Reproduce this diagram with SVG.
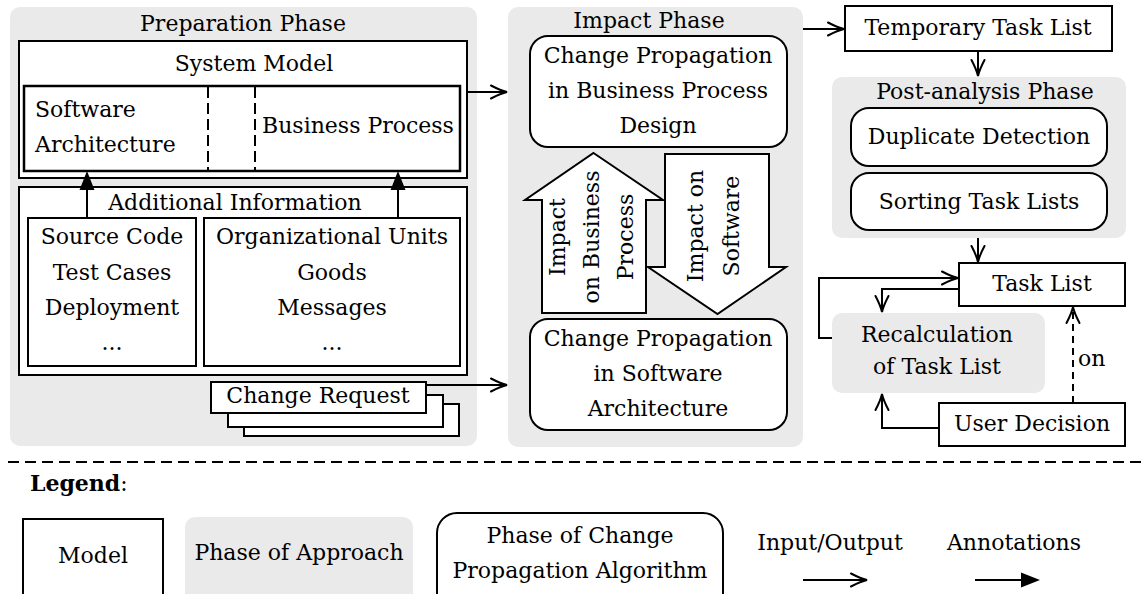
<svg xmlns="http://www.w3.org/2000/svg" width="1145" height="594" viewBox="0 0 1145 594">
<defs>
<style>
.ph{fill:#eaeaea}
.box{fill:#fff;stroke:#000;stroke-width:2}
.t{font-family:"DejaVu Serif","Liberation Serif",serif;font-size:22px;fill:#000}
.m{text-anchor:middle}
.ln{fill:none;stroke:#000;stroke-width:2}
.ds{stroke-dasharray:11 5}
</style>
<marker id="open" viewBox="-20 -10 24 20" refX="0" refY="0" markerWidth="24" markerHeight="20" markerUnits="userSpaceOnUse" orient="auto" overflow="visible">
<path d="M-16,-6.5 Q-6,-1.3 0,0 Q-6,1.3 -16,6.5" fill="none" stroke="#000" stroke-width="2" stroke-linecap="round"/>
</marker>
<marker id="fill" viewBox="-20 -10 24 20" refX="0" refY="0" markerWidth="24" markerHeight="20" markerUnits="userSpaceOnUse" orient="auto" overflow="visible">
<path d="M-16,-7.5 L3,0 L-16,7.5 Z" fill="#000"/>
</marker>
</defs>
<rect width="1145" height="594" fill="#fff"/>

<g id="preparation-phase">
<rect class="ph" x="10" y="7" width="467" height="439" rx="10"/>
<text class="t m" x="243" y="31">Preparation Phase</text>
</g>
<g id="impact-phase">
<rect class="ph" x="508" y="7" width="295" height="440" rx="10"/>
<text class="t m" x="649" y="28">Impact Phase</text>
</g>
<g id="post-analysis-phase">
<rect class="ph" x="832" y="77" width="294" height="161" rx="10"/>
<text class="t m" x="985" y="99">Post-analysis Phase</text>
</g>
<g id="recalculation">
<rect class="ph" x="832" y="313" width="213" height="80" rx="10"/>
<text class="t m" x="937" y="342">Recalculation</text>
<text class="t m" x="937" y="374">of Task List</text>
</g>

<g id="system-model">
<rect class="box" x="19" y="41" width="448" height="137"/>
<text class="t m" x="254" y="71">System Model</text>
<rect class="box" x="24" y="86" width="436" height="85" style="stroke-width:2.5"/>
<line class="ln ds" x1="208" y1="87" x2="208" y2="170"/>
<line class="ln ds" x1="255" y1="87" x2="255" y2="170"/>
<text class="t" x="35" y="117">Software</text>
<text class="t" x="35" y="152">Architecture</text>
<text class="t" x="262" y="133">Business Process</text>
</g>

<g id="additional-information">
<rect class="box" x="19" y="187" width="448" height="188"/>
<text class="t m" x="235" y="210">Additional Information</text>
</g>
<g id="software-info">
<rect class="box" x="28" y="218" width="168" height="148"/>
<text class="t m" x="112" y="244">Source Code</text>
<text class="t m" x="112" y="280">Test Cases</text>
<text class="t m" x="112" y="315">Deployment</text>
<text class="t m" x="112" y="350">...</text>
</g>
<g id="business-info">
<rect class="box" x="204" y="218" width="256" height="148"/>
<text class="t m" x="332" y="244">Organizational Units</text>
<text class="t m" x="332" y="280">Goods</text>
<text class="t m" x="332" y="315">Messages</text>
<text class="t m" x="332" y="350">...</text>
</g>

<g id="change-request">
<rect class="box" x="244" y="404" width="215" height="32"/>
<rect class="box" x="228" y="395" width="215" height="32"/>
<rect class="box" x="211" y="382" width="215" height="31"/>
<text class="t m" x="318" y="403">Change Request</text>
</g>

<g id="cp-business-process">
<rect class="box" x="530" y="36" width="257" height="111" rx="18"/>
<text class="t m" x="658" y="63">Change Propagation</text>
<text class="t m" x="658" y="98">in Business Process</text>
<text class="t m" x="658" y="133">Design</text>
</g>
<g id="cp-software-architecture">
<rect class="box" x="530" y="319" width="257" height="111" rx="18"/>
<text class="t m" x="658" y="346">Change Propagation</text>
<text class="t m" x="658" y="381">in Software</text>
<text class="t m" x="658" y="416">Architecture</text>
</g>

<g id="impact-on-business-process">
<polygon class="box" points="593.5,153 663,200 646,200 646,313 542,313 542,200 525,200"/>
<g transform="translate(594,237) rotate(-90)">
<text class="t m" x="0" y="-29">Impact</text>
<text class="t m" x="0" y="5">on Business</text>
<text class="t m" x="0" y="39">Process</text>
</g>
</g>
<g id="impact-on-software">
<polygon class="box" points="665,154 769,154 769,267 786,267 717.5,314 648,267 665,267"/>
<g transform="translate(718,226) rotate(-90)">
<text class="t m" x="0" y="-15">Impact on</text>
<text class="t m" x="0" y="21">Software</text>
</g>
</g>

<g id="temporary-task-list">
<rect class="box" x="845" y="6" width="267" height="45"/>
<text class="t m" x="978" y="35">Temporary Task List</text>
</g>
<g id="duplicate-detection">
<rect class="box" x="851" y="108" width="256" height="58" rx="18"/>
<text class="t m" x="979" y="144">Duplicate Detection</text>
</g>
<g id="sorting-task-lists">
<rect class="box" x="851" y="173" width="256" height="57" rx="18"/>
<text class="t m" x="979" y="209">Sorting Task Lists</text>
</g>
<g id="task-list">
<rect class="box" x="959" y="263" width="166" height="43"/>
<text class="t m" x="1042" y="291">Task List</text>
</g>
<g id="user-decision">
<rect class="box" x="939" y="403" width="186" height="43"/>
<text class="t m" x="1032" y="431">User Decision</text>
</g>

<g id="connectors">
<path class="ln" d="M467,92 H507" marker-end="url(#open)"/>
<path class="ln" d="M426,385 H507" marker-end="url(#open)"/>
<path class="ln" d="M803,29 H844" marker-end="url(#open)"/>
<path class="ln" d="M978,51 V76" marker-end="url(#open)"/>
<path class="ln" d="M978,238 V262" marker-end="url(#open)"/>
<path class="ln" d="M832,338 H819 V278 H958" marker-end="url(#open)"/>
<path class="ln" d="M959,289 H882 V312" marker-end="url(#open)"/>
<path class="ln" d="M939,428 H882 V394" marker-end="url(#open)"/>
<path class="ln" d="M1073,403 V307" style="stroke-dasharray:7 5" marker-end="url(#open)"/>
<text class="t" x="1078" y="366">on</text>
<path class="ln" d="M87,218 V174" marker-end="url(#fill)"/>
<path class="ln" d="M398,218 V174" marker-end="url(#fill)"/>
</g>

<g id="legend">
<line class="ln" x1="8" y1="462" x2="1145" y2="462" style="stroke-dasharray:11 6"/>
<text class="t" x="30" y="491"><tspan font-weight="bold">Legend</tspan>:</text>
<rect class="box" x="23" y="519" width="140" height="90"/>
<text class="t m" x="93" y="563">Model</text>
<rect class="ph" x="185" y="517" width="228" height="90" rx="10"/>
<text class="t m" x="299" y="560">Phase of Approach</text>
<rect class="box" x="437" y="513" width="286" height="100" rx="20"/>
<text class="t m" x="580" y="543">Phase of Change</text>
<text class="t m" x="580" y="578">Propagation Algorithm</text>
<text class="t m" x="830" y="550">Input/Output</text>
<path class="ln" d="M803,580 H867" marker-end="url(#open)"/>
<text class="t m" x="1014" y="550">Annotations</text>
<path class="ln" d="M975,580 H1037" marker-end="url(#fill)"/>
</g>
</svg>
